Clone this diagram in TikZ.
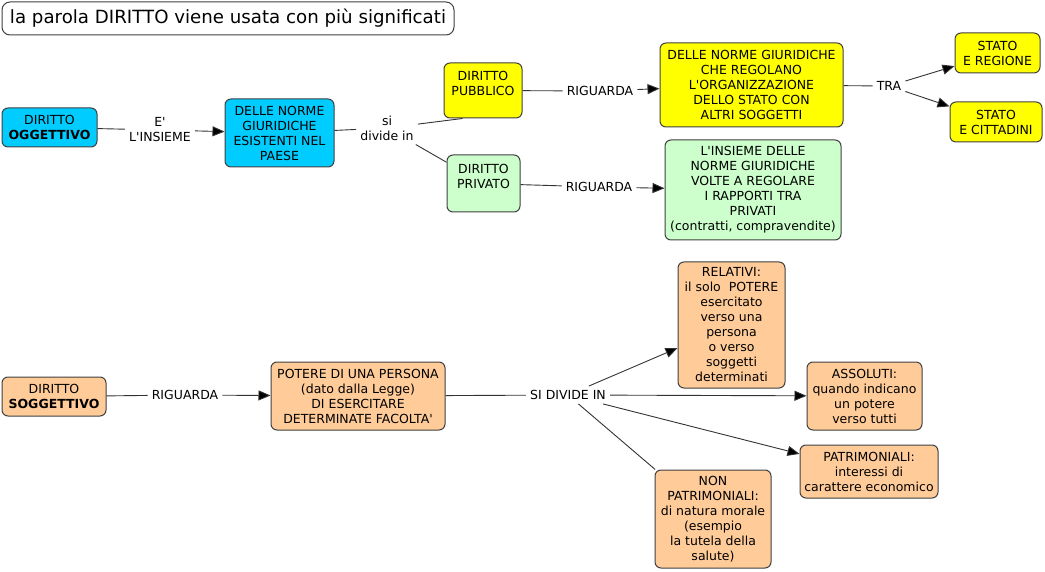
\documentclass[tikz,border=0pt]{standalone}
\usepackage{fontspec}
\setmainfont{DejaVu Sans}[Ligatures=TeXOff]
\usetikzlibrary{arrows.meta}
\definecolor{cblu}{RGB}{0,204,255}
\definecolor{cgiallo}{RGB}{255,255,0}
\definecolor{cverde}{RGB}{204,255,204}
\definecolor{carancio}{RGB}{255,204,153}

\begin{document}
\begin{tikzpicture}[x=1pt, y=-1pt, font=\fontsize{12.5}{15}\selectfont,
    concetto/.style={rectangle, rounded corners=6pt, draw=black!75, line width=1pt, align=center, inner sep=2pt},
    parola/.style={align=center, inner sep=4pt},
    linea/.style={draw=black!80, line width=0.9pt},
    freccia/.style={linea, -{Triangle[length=12pt,width=10pt,fill=black]}}]
    \useasboundingbox (0,0) rectangle (1045,572);

    \node[concetto, fill=white, rounded corners=8pt, minimum width=452, minimum height=33, font=\fontsize{18.2}{22}\selectfont] (titolo) at (228,18.5) {la parola DIRITTO viene usata con più significati};

    \node[concetto, fill=cblu, minimum width=95, minimum height=39] (oggettivo) at (49.5,127.5) {DIRITTO\\\textbf{OGGETTIVO}};
    \node[parola] (insieme) at (160,130) {E'\\L'INSIEME};
    \node[concetto, fill=cblu, minimum width=109, minimum height=68] (norme) at (279.5,133) {DELLE NORME\\GIURIDICHE\\ESISTENTI NEL\\PAESE};
    \node[parola] (divide) at (387,128) {si\\divide in};
    \node[concetto, fill=cgiallo, minimum width=78, minimum height=55] (pubblico) at (483,90.5) {DIRITTO\\PUBBLICO\\\mbox{}};
    \node[concetto, fill=cverde, minimum width=73, minimum height=57] (privato) at (483.5,183.5) {DIRITTO\\PRIVATO\\\mbox{}};
    \node[parola] (riguardapub) at (600,91) {RIGUARDA};
    \node[concetto, fill=cgiallo, minimum width=183, minimum height=84] (organizzazione) at (751.5,85) {DELLE NORME GIURIDICHE\\CHE REGOLANO\\L'ORGANIZZAZIONE\\DELLO STATO CON\\ALTRI SOGGETTI};
    \node[parola] (tra) at (889,86) {TRA};
    \node[concetto, fill=cgiallo, minimum width=85, minimum height=40] (regione) at (997.5,53) {STATO\\E REGIONE};
    \node[concetto, fill=cgiallo, minimum width=92, minimum height=40] (cittadini) at (996,122) {STATO\\E CITTADINI};
    \node[parola] (riguardapriv) at (599,187) {RIGUARDA};
    \node[concetto, fill=cverde, minimum width=176, minimum height=100] (rapporti) at (753,190) {L'INSIEME DELLE\\NORME GIURIDICHE\\VOLTE A REGOLARE\\I RAPPORTI TRA\\PRIVATI\\(contratti, compravendite)};

    \node[concetto, fill=carancio, minimum width=104, minimum height=39] (soggettivo) at (54,396.5) {DIRITTO\\\textbf{SOGGETTIVO}};
    \node[parola] (riguardasogg) at (185,395) {RIGUARDA};
    \node[concetto, fill=carancio, minimum width=174, minimum height=68] (potere) at (358,396) {POTERE DI UNA PERSONA\\(dato dalla Legge)\\DI ESERCITARE\\DETERMINATE FACOLTA'};
    \node[parola] (sidivide) at (568,395) {SI DIVIDE IN};
    \node[concetto, fill=carancio, minimum width=107, minimum height=126] (relativi) at (731.5,325) {RELATIVI:\\il solo~~POTERE\\esercitato\\verso una\\persona\\o verso\\soggetti\\determinati};
    \node[concetto, fill=carancio, minimum width=115, minimum height=68] (assoluti) at (864.5,396) {ASSOLUTI:\\quando indicano\\un potere\\verso tutti};
    \node[concetto, fill=carancio, minimum width=138, minimum height=53] (patrimoniali) at (869,471.5) {PATRIMONIALI:\\interessi di\\carattere economico};
    \node[concetto, fill=carancio, minimum width=116, minimum height=98] (nonpatrimoniali) at (713,519) {NON\\PATRIMONIALI:\\di natura morale\\(esempio\\la tutela della\\salute)};

    \draw[linea] (oggettivo) -- (insieme);
    \draw[freccia] (insieme) -- (norme);
    \draw[linea] (norme) -- (divide);
    \draw[linea] (divide) -- ([xshift=19pt]pubblico.south west);
    \draw[linea] (divide) -- (privato);
    \draw[linea] (pubblico) -- (riguardapub);
    \draw[freccia] (riguardapub) -- (organizzazione);
    \draw[linea] (organizzazione) -- (tra);
    \draw[freccia] (tra) -- (regione);
    \draw[freccia] (tra) -- (cittadini);
    \draw[linea] (privato) -- (riguardapriv);
    \draw[freccia] (riguardapriv) -- (rapporti);
    \draw[linea] (soggettivo) -- (riguardasogg);
    \draw[freccia] (riguardasogg) -- (potere);
    \draw[linea] (potere) -- (sidivide);
    \draw[freccia] (sidivide) -- (relativi);
    \draw[freccia] (sidivide) -- (assoluti);
    \draw[freccia] (sidivide) -- (patrimoniali);
    \draw[linea] (sidivide) -- (nonpatrimoniali);
\end{tikzpicture}
\end{document}
